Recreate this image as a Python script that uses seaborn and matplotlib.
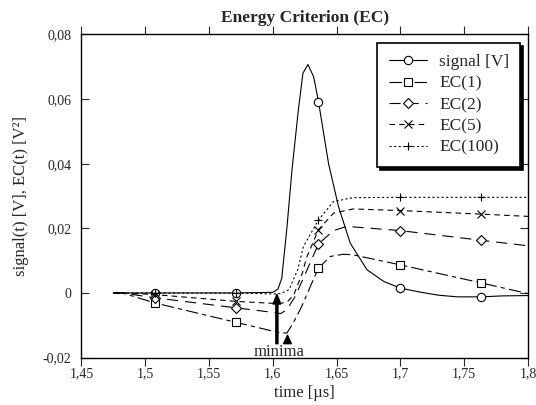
import numpy as np
import pandas as pd
import matplotlib
matplotlib.use("Agg")
import matplotlib.pyplot as plt
from matplotlib.ticker import MultipleLocator, FuncFormatter
import seaborn as sns

# data (time in µs)
marker_t = [1.5077, 1.5712, 1.6358, 1.6999, 1.7635]

t_signal = [1.475, 1.5077, 1.5712, 1.600, 1.604, 1.607, 1.611, 1.615, 1.620, 1.6236, 1.6275,
            1.632, 1.6358, 1.6437, 1.6515, 1.6607, 1.6738, 1.6868, 1.6999, 1.715, 1.73,
            1.745, 1.7635, 1.78, 1.80]
signal = [0, 0, 0, 0.0002, 0.0012, 0.0045, 0.02, 0.038, 0.0566, 0.068, 0.0707,
          0.0669, 0.0592, 0.040, 0.0267, 0.0154, 0.0072, 0.0036, 0.0015, 0.0003, -0.0007,
          -0.0012, -0.0012, -0.0009, -0.0008]

t_ec1 = [1.475, 1.482, 1.5077, 1.5712, 1.600, 1.606, 1.611, 1.616, 1.6227, 1.6306, 1.6358,
         1.645, 1.6555, 1.663, 1.6999, 1.7635, 1.80]
ec1 = [0, 0, -0.0031, -0.0091, -0.0118, -0.0123, -0.0124, -0.0093, -0.0041, 0.0031, 0.0077,
       0.0113, 0.012, 0.0118, 0.0087, 0.0031, -0.0002]

t_ec2 = [1.475, 1.482, 1.5077, 1.5712, 1.600, 1.606, 1.611, 1.6176, 1.624, 1.6358, 1.6476,
         1.658, 1.6999, 1.7635, 1.80]
ec2 = [0, 0, -0.0015, -0.0046, -0.006, -0.0064, -0.0052, -0.001, 0.0046, 0.0152, 0.0193,
       0.0206, 0.0193, 0.0163, 0.0146]

t_ec5 = [1.475, 1.482, 1.5077, 1.5712, 1.600, 1.606, 1.612, 1.6165, 1.623, 1.6265, 1.6358,
         1.6476, 1.663, 1.6999, 1.7635, 1.80]
ec5 = [0, 0, -0.0005, -0.0026, -0.0032, -0.0033, -0.0025, -0.0005, 0.006, 0.011, 0.0196,
       0.0247, 0.026, 0.0255, 0.0244, 0.0237]

t_ec100 = [1.475, 1.5077, 1.5712, 1.600, 1.606, 1.6127, 1.6195, 1.624, 1.6358, 1.6476,
           1.663, 1.6999, 1.7635, 1.80]
ec100 = [0, 0, 0, -0.0003, -0.0002, 0.001, 0.0072, 0.0144, 0.0226, 0.0283,
         0.0295, 0.0296, 0.0296, 0.0296]

series = [
    ("signal [V]", t_signal, signal, "o", "-"),
    ("EC(1)", t_ec1, ec1, "s", (0, (9, 3, 3, 3))),
    ("EC(2)", t_ec2, ec2, "D", (0, (8, 5))),
    ("EC(5)", t_ec5, ec5, "x", (0, (4, 3))),
    ("EC(100)", t_ec100, ec100, "+", (0, (1.5, 1.8))),
]

sns.set_style("ticks")
plt.rcParams["font.family"] = ["Liberation Serif", "DejaVu Serif"]
plt.rcParams["lines.scale_dashes"] = False

fig = plt.figure(figsize=(5.36, 4.05), dpi=100)
ax = fig.add_axes([0.152, 0.117, 0.833, 0.798])

for name, t, v, mk, ls in series:
    df = pd.DataFrame({"t": t, "v": v})
    idx = [i for i, x in enumerate(t) if np.isclose(x, marker_t, atol=1e-4).any()]
    ms = 4.6 if mk == "D" else 6
    sns.lineplot(data=df, x="t", y="v", ax=ax, color="k", lw=0.8, linestyle=ls,
                 marker=mk, markevery=idx, ms=ms, mfc="white", mec="k", mew=0.8,
                 label=name, errorbar=None)

# minima arrows
ax.annotate("", xy=(1.6032, -0.0004), xytext=(1.6032, -0.0157),
            arrowprops=dict(facecolor="k", edgecolor="k", width=1.5, headwidth=5.5, headlength=7, shrink=0))
ax.annotate("", xy=(1.6115, -0.0131), xytext=(1.6115, -0.0156),
            arrowprops=dict(facecolor="k", edgecolor="k", width=0.4, headwidth=5.5, headlength=6, shrink=0))
ax.text(1.605, -0.0182, "minima", ha="center", va="center", fontsize=12)

ax.set_xlim(1.45, 1.8)
ax.set_ylim(-0.02, 0.08)
ax.xaxis.set_major_locator(MultipleLocator(0.05))
ax.yaxis.set_major_locator(MultipleLocator(0.02))
fmt = FuncFormatter(lambda v, p: f"{round(v, 4):g}".replace(".", ","))
ax.xaxis.set_major_formatter(fmt)
ax.yaxis.set_major_formatter(fmt)
ax.tick_params(axis="x", direction="out", top=True, length=6, width=0.8, pad=1, labelsize=10)
ax.tick_params(axis="y", direction="in", right=True, length=6, width=0.8, pad=7, labelsize=10)
for s in ax.spines.values():
    s.set_visible(True)
    s.set_linewidth(1)
    s.set_color("k")

ax.set_xlabel("time [µs]", fontsize=12, labelpad=3)
ax.set_ylabel("signal(t) [V], EC(t) [V²]", fontsize=12, labelpad=10)
ax.set_title("Energy Criterion (EC)", fontsize=12.5, fontweight="bold", pad=9)

leg = ax.legend(loc="upper right", bbox_to_anchor=(0.983, 0.974), borderaxespad=0,
                fancybox=False, edgecolor="k", framealpha=1, shadow={"color": "k", "alpha": 1},
                fontsize=12.5, handlelength=2.2, handletextpad=0.7, labelspacing=0.3,
                borderpad=0.65)
leg.get_frame().set_linewidth(1.2)

fig.savefig("out.png", dpi=100)
